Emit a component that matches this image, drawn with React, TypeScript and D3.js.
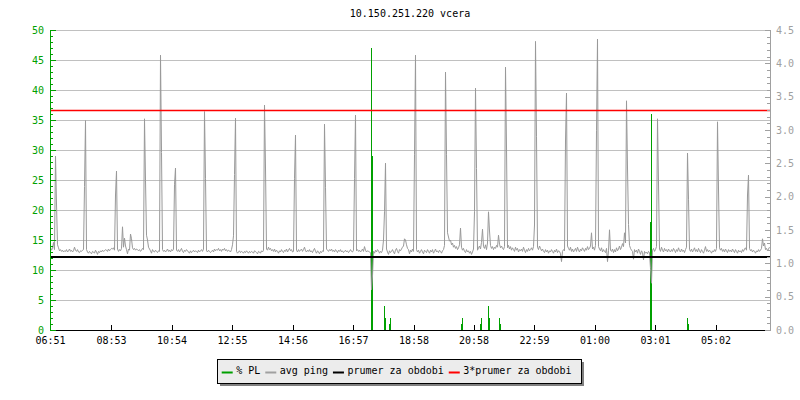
import React from "react";
import * as d3 from "d3";

const title = "10.150.251.220 vcera";
const timeLabels = ["06:51", "08:53", "10:54", "12:55", "14:56", "16:57", "18:58", "20:58", "22:59", "01:00", "03:01", "05:02"];
const leftTicks = [0, 5, 10, 15, 20, 25, 30, 35, 40, 45, 50];
const rightTicks = [0, 0.5, 1, 1.5, 2, 2.5, 3, 3.5, 4, 4.5];
const stepMinutes = 2;
const meanPing = 12.22;
const meanPing3 = 36.66;

// avg ping, tenths of ms, one sample per 2 minutes
const avgPing10 = [
  138,133,136,146,134,290,210,142,137,132,134,131,133,130,132,131,134,130,132,135,
  131,133,130,132,138,133,131,134,130,129,132,131,133,134,239,349,134,130,128,131,
  129,127,131,130,128,133,130,126,131,129,132,130,133,131,132,134,133,131,135,132,
  134,136,135,137,133,225,265,135,131,134,132,136,172,138,153,140,134,127,135,133,
  160,152,137,134,136,133,135,134,132,134,131,133,136,134,352,249,158,150,138,135,
  132,128,134,131,130,133,131,129,132,131,458,296,134,131,133,130,132,135,131,133,
  130,134,132,135,242,270,133,131,134,130,133,136,131,129,133,131,134,132,130,128,
  132,129,131,133,130,132,131,129,133,130,132,134,131,135,364,253,132,130,133,131,
  129,131,133,130,135,132,134,133,136,132,134,131,135,133,136,132,134,131,133,132,
  130,134,142,157,259,353,131,128,130,132,129,131,130,128,131,129,132,130,128,131,
  129,131,130,128,132,131,129,127,131,130,128,132,130,133,375,270,135,133,138,134,
  136,132,134,131,135,130,133,131,128,132,130,134,131,129,133,131,135,130,133,136,
  132,134,130,131,253,325,133,130,134,131,133,135,131,134,138,132,130,133,131,134,
  130,132,129,133,136,131,128,132,130,127,131,129,132,131,343,238,135,133,131,134,
  132,135,131,133,130,134,132,129,133,131,134,130,132,129,131,133,130,132,129,131,
  134,131,130,133,252,358,132,134,131,133,130,132,135,131,139,133,130,132,131,130,
  129,67,90,131,128,133,130,134,132,128,131,129,133,150,197,278,135,130,126,132,
  129,131,134,130,127,133,136,131,128,134,132,135,138,140,152,150,142,136,134,127,
  133,130,135,131,292,458,134,130,133,128,131,134,130,127,133,131,129,134,131,128,
  133,130,134,128,131,135,130,132,129,133,131,128,132,134,141,430,292,162,155,148,
  150,142,145,138,141,136,139,134,137,142,170,138,133,136,131,129,134,130,132,128,
  131,126,130,135,197,403,269,133,137,140,135,146,168,139,136,142,134,145,197,165,
  141,136,139,134,138,136,141,138,158,143,137,140,136,134,139,438,305,137,141,135,
  139,133,137,134,131,138,133,136,130,134,132,135,131,138,133,129,134,131,136,132,
  134,137,133,139,175,481,322,138,134,140,136,132,135,131,129,134,130,133,128,132,
  130,134,131,128,133,130,135,129,132,131,127,114,131,134,132,315,395,140,136,133,
  138,131,135,130,133,136,131,138,133,130,135,132,137,134,131,136,133,139,134,136,
  140,162,135,138,133,141,332,485,139,135,132,137,130,134,131,129,136,114,132,167,
  133,131,135,129,134,130,137,132,135,140,134,138,144,139,162,145,382,270,176,141,
  136,133,131,118,134,130,133,128,135,131,126,132,129,117,131,128,130,127,131,129,
  102,78,133,136,131,134,139,352,245,135,131,138,133,130,136,132,134,130,135,132,
  130,134,131,136,133,129,134,131,137,132,130,135,131,133,129,134,138,295,218,134,
  131,135,130,133,137,131,134,130,136,132,129,134,131,128,133,139,131,134,130,133,
  131,128,132,130,134,131,136,347,235,137,133,136,131,134,130,135,132,129,134,131,
  133,130,135,132,129,134,131,128,133,130,132,129,134,131,135,137,133,225,258,136,
  132,134,130,133,131,128,132,130,134,131,133,136,152,140,145,134,136,132,135,138,
];

// packet loss %, nonzero samples only: [sample index, value]
const packetLoss: [number, number][] = [
  [321, 47], [322, 29], [334, 4], [335, 2], [339, 1], [340, 2],
  [411, 1], [412, 2], [430, 1], [431, 2], [438, 4], [439, 2],
  [449, 2], [450, 1], [600, 18], [601, 36], [637, 2], [638, 1],
];

const legendItems = [
  { label: "% PL", color: "#00a000" },
  { label: "avg ping", color: "#a0a0a0" },
  { label: "prumer za obdobi", color: "#000000" },
  { label: "3*prumer za obdobi", color: "#ff0000" },
];

const FONT = "'DejaVu Sans Mono', monospace";

export default function App() {
  const W = 800, H = 400;
  const x0 = 50, x1 = 770, yTop = 30, yBot = 330;
  const x = d3.scaleLinear().domain([0, 1440]).range([x0, x1]);
  const y = d3.scaleLinear().domain([0, 50]).range([yBot, yTop]);
  const yR = d3.scaleLinear().domain([0, 4.5]).range([yBot, yTop]);

  const startMin = 6 * 60 + 51;
  const tickMins = timeLabels.map((t) => {
    const [h, m] = t.split(":").map(Number);
    return (((h * 60 + m - startMin) % 1440) + 1440) % 1440;
  });

  const pingData = avgPing10.map((v, i) => ({ t: i * stepMinutes, v: v / 10 }));
  const line = d3.line<{ t: number; v: number }>()
    .x((d) => x(d.t) + 0.5)
    .y((d) => y(d.v));

  const minorLeft = d3.range(0, 51, 1);
  const minorRight = d3.range(0, 46, 1).map((d) => d / 10);
  const fmtR = d3.format(".1f");

  // legend layout
  const legendX = 217, legendY = 359, legendW = 364, legendH = 24;
  let cursor = 221.7;
  const legendPos = legendItems.map((it) => {
    const pos = { ...it, sx: cursor, tx: cursor + 14.5 };
    cursor = cursor + 14.5 + it.label.length * 6.02 + 5;
    return pos;
  });

  return (
    <svg width={W} height={H} style={{ position: "absolute", left: 0, top: 0, background: "#fff" }}>
      <rect x={0} y={0} width={W} height={H} fill="#fff" />
      <text x={(x0 + x1) / 2} y={17} textAnchor="middle" fontFamily={FONT} fontSize={10} fill="#000">{title}</text>

      {/* grid */}
      <g shapeRendering="crispEdges">
        {leftTicks.filter((t) => t > 0).map((t) => (
          <line key={t} x1={x0} x2={x1} y1={y(t) + 0.5} y2={y(t) + 0.5} stroke="#c0c0c0" />
        ))}
      </g>

      {/* packet loss */}
      <g shapeRendering="crispEdges">
        {packetLoss.map(([i, v]) => (
          <rect key={i} x={x(i * stepMinutes)} y={y(v)} width={1} height={y(0) - y(v)} fill="#00a000" />
        ))}
      </g>

      {/* avg ping */}
      <path d={line(pingData) || ""} fill="none" stroke="#999999" strokeWidth={1} />

      {/* mean lines */}
      <line x1={x0} x2={x1} y1={y(meanPing)} y2={y(meanPing)} stroke="#000" strokeWidth={2} shapeRendering="crispEdges" />
      <line x1={x0} x2={x1} y1={y(meanPing3) + 0.5} y2={y(meanPing3) + 0.5} stroke="#ff0000" strokeWidth={1.5} />

      {/* x axis */}
      <g shapeRendering="crispEdges">
        <line x1={x0} x2={x1} y1={yBot + 0.5} y2={yBot + 0.5} stroke="#000" />
        {tickMins.map((m, k) => (
          <line key={k} x1={x(m) + 0.5} x2={x(m) + 0.5} y1={yBot - 5} y2={yBot} stroke="#000" />
        ))}
      </g>
      {tickMins.map((m, k) => (
        <text key={k} x={x(m) + 0.5} y={344} textAnchor="middle" fontFamily={FONT} fontSize={10} fill="#000">{timeLabels[k]}</text>
      ))}

      {/* left axis */}
      <g shapeRendering="crispEdges">
        <line x1={x0 + 0.5} x2={x0 + 0.5} y1={yTop} y2={yBot + 1} stroke="#00a000" />
        {minorLeft.map((t) => (
          <line key={t} x1={x0} x2={x0 + (t % 5 === 0 ? 6 : 3)} y1={y(t) + 0.5} y2={y(t) + 0.5} stroke="#00a000" />
        ))}
      </g>
      {leftTicks.map((t) => (
        <text key={t} x={44} y={y(t) + 3.5} textAnchor="end" fontFamily={FONT} fontSize={10} fill="#00a000">{t}</text>
      ))}

      {/* right axis */}
      <g shapeRendering="crispEdges">
        <line x1={x1 + 0.5} x2={x1 + 0.5} y1={yTop} y2={yBot + 1} stroke="#a0a0a0" />
        {minorRight.map((t, k) => (
          <line key={k} x1={x1 - (k % 5 === 0 ? 5 : 3)} x2={x1} y1={Math.round(yR(t)) + 0.5} y2={Math.round(yR(t)) + 0.5} stroke="#a0a0a0" />
        ))}
      </g>
      {rightTicks.map((t) => (
        <text key={t} x={776} y={yR(t) + 3.5} textAnchor="start" fontFamily={FONT} fontSize={10} fill="#a0a0a0">{fmtR(t)}</text>
      ))}

      {/* legend */}
      <g>
        <rect x={legendX + 3} y={legendY + 3} width={legendW} height={legendH} fill="#808080" />
        <rect x={legendX + 0.5} y={legendY + 0.5} width={legendW} height={legendH} fill="#ececec" stroke="#000" strokeWidth={1} shapeRendering="crispEdges" />
        {legendPos.map((it) => (
          <g key={it.label}>
            <rect x={it.sx} y={371.5} width={11} height={2} fill={it.color} />
            <text x={it.tx} y={374} fontFamily={FONT} fontSize={10} fill="#000">{it.label}</text>
          </g>
        ))}
      </g>
    </svg>
  );
}
